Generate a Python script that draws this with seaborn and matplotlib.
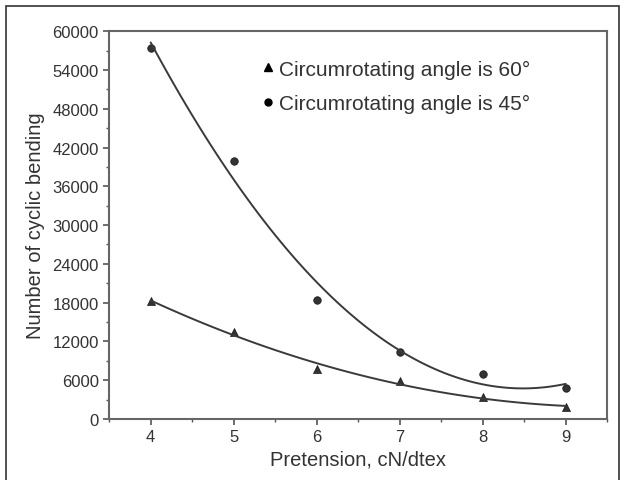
import numpy as np
import matplotlib
matplotlib.use("Agg")
import matplotlib.pyplot as plt
import seaborn as sns
from matplotlib.ticker import MultipleLocator
from matplotlib.lines import Line2D
from matplotlib.patches import Rectangle

# pretension values and cyclic bending counts
pretension = [4, 5, 6, 7, 8, 9]
bending_60 = [18300, 13400, 7700, 5800, 3450, 1800]
bending_45 = [57400, 39900, 18400, 10400, 6950, 4800]
label_60 = "Circumrotating angle is 60°"
label_45 = "Circumrotating angle is 45°"

sns.set_style("ticks")
plt.rcParams["font.family"] = ["Liberation Sans", "DejaVu Sans"]

fig = plt.figure(figsize=(6.24, 4.81), dpi=100)
ax = fig.add_axes([0.175, 0.127, 0.798, 0.806])

# second order fits, like the original curves
sns.regplot(x=pretension, y=bending_60, order=2, ci=None, marker="^", ax=ax,
            scatter_kws={"s": 34, "color": "black", "edgecolor": "black", "linewidths": 0.5},
            line_kws={"color": "#3a3a3a", "lw": 1.4})
sns.regplot(x=pretension, y=bending_45, order=2, ci=None, marker="o", ax=ax,
            scatter_kws={"s": 30, "color": "black", "edgecolor": "black", "linewidths": 0.5},
            line_kws={"color": "#3a3a3a", "lw": 1.4})

ax.set_xlim(3.5, 9.5)
ax.set_ylim(0, 60000)
ax.xaxis.set_major_locator(MultipleLocator(1))
ax.xaxis.set_minor_locator(MultipleLocator(0.5))
ax.yaxis.set_major_locator(MultipleLocator(6000))
ax.yaxis.set_minor_locator(MultipleLocator(3000))
ax.tick_params(which="major", direction="out", length=4, width=1.2,
               color="#555555", labelsize=12, labelcolor="#333333")
ax.tick_params(which="minor", direction="out", length=2.5, width=1,
               color="#555555")
for sp in ax.spines.values():
    sp.set_color("#666666")
    sp.set_linewidth(1.5)

ax.set_xlabel("Pretension, cN/dtex", fontsize=14.5, color="#333333", labelpad=4)
ax.set_ylabel("Number of cyclic bending", fontsize=14.5, color="#333333", labelpad=5)

handles = [Line2D([], [], ls="none", marker="^", color="black", markersize=5.5),
           Line2D([], [], ls="none", marker="o", color="black", markersize=5)]
ax.legend(handles, [label_60, label_45], loc="upper left",
          bbox_to_anchor=(0.27, 0.975), frameon=False, fontsize=15,
          handlelength=0.5, handletextpad=0.3, labelspacing=0.75,
          labelcolor="#333333")

# outer frame around the figure
fig.patches.append(Rectangle((0.01, -0.05), 0.982, 1.035, transform=fig.transFigure,
                             fill=False, edgecolor="#333333", lw=1.2))

fig.savefig("out.png", dpi=100)
